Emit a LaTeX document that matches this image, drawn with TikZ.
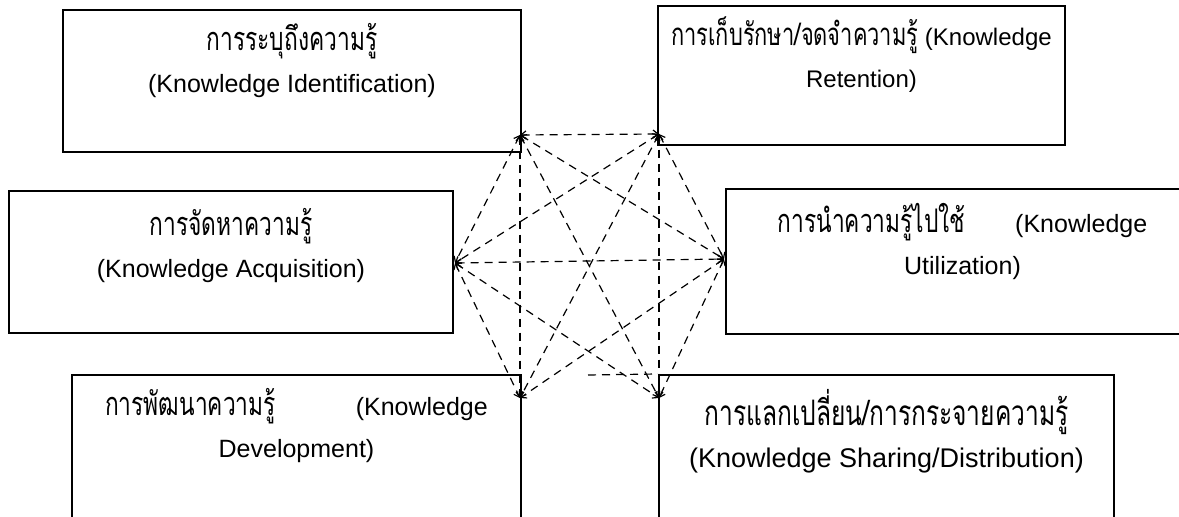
\documentclass[tikz,border=0pt]{standalone}
\usepackage{fontspec}
\setmainfont{Liberation Sans}
\newfontfamily\thaifont[Script=Thai, Scale=1.3, FakeStretch=0.7]{Loma}
\usetikzlibrary{positioning, arrows.meta}

\begin{document}
\begin{tikzpicture}[
		x=0.5pt, y=-0.5pt,
		kmbox/.style={rectangle, draw, line width=1pt, fill=white, inner sep=0pt},
		boxtxt/.style={align=center, inner sep=0pt, font=\fontsize{12.5}{21}\selectfont},
		link/.style={line width=0.6pt, dash pattern=on 4pt off 3pt, {Straight Barb[length=2.5pt,width=4pt]}-{Straight Barb[length=2.5pt,width=4pt]}},
		gapline/.style={line width=0.6pt, dash pattern=on 4pt off 3pt},
		>=LaTeX
	]
	\useasboundingbox (0,0) rectangle (1179,517);

	% the six knowledge boxes
	\node[kmbox, minimum width=229pt, minimum height=71pt] (idbox) at (292,81) {};
	\node[kmbox, minimum width=203.5pt, minimum height=69.5pt] (retbox) at (861.5,75.5) {};
	\node[kmbox, minimum width=222pt, minimum height=71pt] (acqbox) at (231,262) {};
	\node[kmbox, minimum width=234.5pt, minimum height=72.5pt] (utilbox) at (960.5,261.5) {};
	\node[kmbox, minimum width=224.5pt, minimum height=82.5pt] (devbox) at (296.5,457.5) {};
	\node[kmbox, minimum width=227.5pt, minimum height=82.5pt] (shrbox) at (886.5,457.5) {};

	\node[boxtxt, below=7pt of idbox.north] (idtxt) {{\thaifont การระบุถึงความรู้}\\(Knowledge Identification)};
	\node[boxtxt, below=5.5pt of retbox.north, font=\fontsize{12}{21}\selectfont] (rettxt) {{\thaifont การเก็บรักษา/จดจำความรู้} (Knowledge\\Retention)};
	\node[boxtxt, below=9pt of acqbox.north] (acqtxt) {{\thaifont การจัดหาความรู้}\\(Knowledge Acquisition)};
	\node[boxtxt, below=7.5pt of utilbox.north, xshift=1pt] (utiltxt) {{\thaifont การนำความรู้ไปใช้}\hspace{25pt}(Knowledge\hspace{14pt}\\Utilization)};
	\node[boxtxt, below=7pt of devbox.north, xshift=0pt] (devtxt) {{\thaifont การพัฒนาความรู้}\hspace{40pt}(Knowledge\\Development)};
	\node[boxtxt, below=7.5pt of shrbox.north, font=\fontsize{13.5}{21}\selectfont] (shrtxt) {{\thaifont การแลกเปลี่ยน/การกระจายความรู้}\\(Knowledge Sharing/Distribution)};

	% corners of the hexagon
	\coordinate (ka) at (520,135);
	\coordinate (kb) at (659,134);
	\coordinate (kc) at (455,263);
	\coordinate (kd) at (724,259);
	\coordinate (ke) at (520,398);
	\coordinate (kf) at (659,398);
	\coordinate (gapstart) at (588,375);

	\foreach \i/\j in {ka/kb, ka/kc, ka/kd, ka/ke, ka/kf, kb/kc, kb/kd, kb/ke, kb/kf, kc/kd, kc/ke, kc/kf, kd/ke, kd/kf}
		\draw[link] (\i) -- (\j);

	\draw[gapline] (gapstart) -- (shrbox.north west);

\end{tikzpicture}
\end{document}
